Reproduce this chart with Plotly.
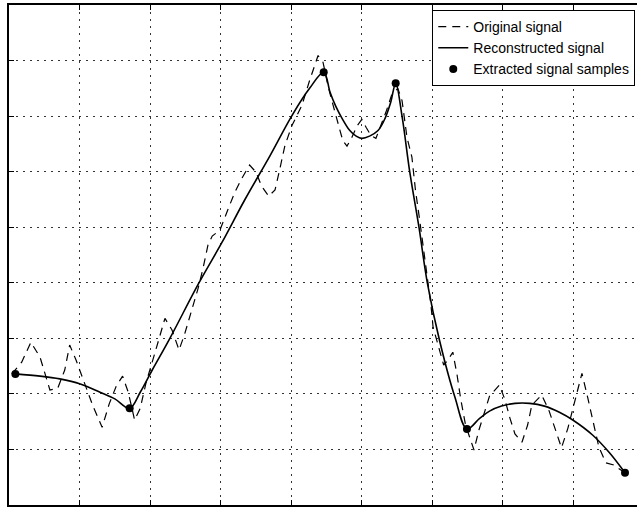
import plotly.graph_objects as go

# Original signal (dashed)
orig_x = [0.04, 0.18, 0.31, 0.44, 0.58, 0.69, 0.79, 0.86, 0.95, 1.03, 1.19, 1.32, 1.42, 1.52, 1.61,
          1.69, 1.78, 1.86, 1.94, 2.08, 2.21, 2.31, 2.41, 2.49, 2.59, 2.68, 2.75, 2.82, 2.88, 2.99,
          3.10, 3.20, 3.30, 3.41, 3.50, 3.58, 3.68, 3.77, 3.84, 3.91, 4.01, 4.15, 4.26, 4.38, 4.45,
          4.52, 4.59, 4.66, 4.73, 4.79, 4.86, 4.93, 5.00, 5.06, 5.13, 5.20, 5.27, 5.35, 5.42, 5.51,
          5.57, 5.64, 5.71, 5.76, 5.82, 5.88, 5.93, 5.98, 6.01, 6.08, 6.16, 6.22, 6.29, 6.35, 6.40,
          6.47, 6.59, 6.66, 6.81, 6.95, 7.03, 7.10, 7.17, 7.27, 7.35, 7.41, 7.55, 7.65, 7.73, 7.83,
          7.92, 8.02, 8.12, 8.20, 8.27, 8.36, 8.46, 8.57, 8.73]
orig_y = [2.36, 2.57, 2.93, 2.66, 2.07, 2.10, 2.43, 2.88, 2.61, 2.32, 1.78, 1.40, 1.82, 2.14, 2.32,
          2.03, 1.53, 1.74, 2.19, 2.79, 3.36, 3.15, 2.79, 3.08, 3.51, 3.90, 4.26, 4.68, 4.84, 4.95,
          5.31, 5.63, 5.88, 6.12, 5.99, 5.74, 5.56, 5.67, 6.06, 6.47, 6.83, 7.19, 7.64, 8.09, 7.97,
          7.55, 7.21, 6.89, 6.56, 6.46, 6.62, 6.82, 6.94, 6.80, 6.65, 6.60, 6.82, 7.10, 7.37, 7.50,
          7.28, 6.62, 6.26, 5.67, 5.13, 4.59, 4.14, 3.60, 3.20, 2.88, 2.52, 2.61, 2.75, 2.34, 1.92,
          1.44, 0.99, 1.35, 1.96, 2.16, 1.89, 1.56, 1.28, 1.13, 1.44, 1.80, 1.98, 1.71, 1.40, 1.03,
          1.38, 1.89, 2.37, 1.94, 1.53, 1.04, 0.76, 0.72, 0.58]

# Reconstructed signal (solid)
rec_x = [0.09, 0.44, 0.72, 1.01, 1.29, 1.50, 1.71,
         1.86, 2.03, 2.28, 2.68, 3.02, 3.34, 3.70, 4.01, 4.26, 4.46,
         4.55, 4.63, 4.72, 4.83, 4.92, 5.00, 5.11, 5.23, 5.33, 5.41, 5.48,
         5.57, 5.68, 5.81, 5.93, 6.10, 6.32, 6.49,
         6.67, 6.81, 6.98, 7.17, 7.38, 7.59, 7.80, 7.99, 8.27, 8.51, 8.73]
rec_y = [2.36, 2.32, 2.27, 2.18, 2.03, 1.91, 1.74,
         2.03, 2.43, 3.00, 3.97, 4.73, 5.49, 6.29, 7.01, 7.50, 7.79,
         7.43, 7.18, 6.96, 6.74, 6.64, 6.60, 6.64, 6.74, 6.96, 7.25, 7.59,
         7.00, 5.99, 5.00, 3.99, 2.97, 1.94, 1.37,
         1.56, 1.69, 1.78, 1.83, 1.83, 1.78, 1.67, 1.53, 1.26, 0.94, 0.58]

# Extracted signal samples
samp_x = [0.09, 1.71, 4.46, 5.48, 6.49, 8.73]
samp_y = [2.36, 1.74, 7.79, 7.59, 1.37, 0.58]

legend_names = ["Original signal", "Reconstructed signal", "Extracted signal samples"]

fig = go.Figure()
fig.add_trace(go.Scatter(x=orig_x, y=orig_y, mode="lines", name=legend_names[0],
                         line=dict(color="black", width=1.2, dash="8px,6px")))
fig.add_trace(go.Scatter(x=rec_x, y=rec_y, mode="lines", name=legend_names[1],
                         line=dict(color="black", width=1.6), line_shape="spline"))
fig.add_trace(go.Scatter(x=samp_x, y=samp_y, mode="markers", name=legend_names[2],
                         marker=dict(color="black", size=8, symbol="circle")))

axis_common = dict(showticklabels=False, showline=True, linecolor="black", linewidth=1.5,
                   showgrid=True, gridcolor="#333333", gridwidth=1, griddash="2px,5px",
                   ticks="inside", ticklen=5, tickcolor="black", zeroline=False, dtick=1)

fig.update_layout(
    width=637, height=508,
    margin=dict(l=9, r=0, t=5, b=3),
    paper_bgcolor="white", plot_bgcolor="white",
    font=dict(family="Liberation Sans, Arial, sans-serif", color="black"),
    showlegend=True,
    legend=dict(x=0.674, y=0.99, xanchor="left", yanchor="top",
                bgcolor="white", bordercolor="black", borderwidth=1,
                font=dict(size=14), tracegroupgap=0),
    xaxis=dict(range=[0, 8.9], tick0=0, mirror="ticks", **axis_common),
    yaxis=dict(range=[0, 9], tick0=0, mirror=False, **axis_common),
)

fig.write_html("out.html", config={"displayModeBar": False},
               post_script="document.body.style.margin='0';")
